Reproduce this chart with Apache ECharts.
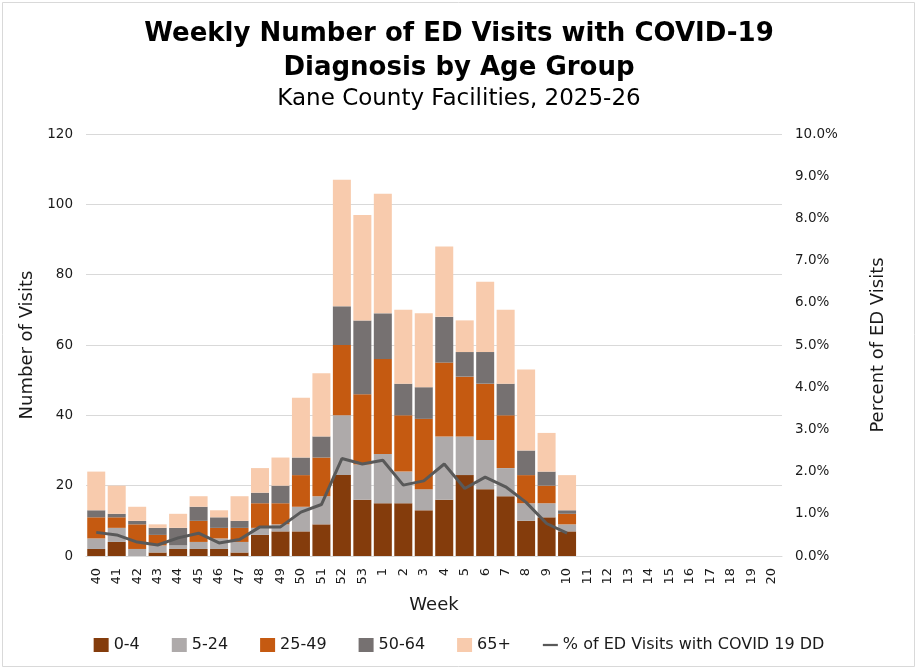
<html>
<meta charset="UTF-8">
<head>
    <script src="https://cdn.jsdelivr.net/npm/echarts@6/dist/echarts.min.js"></script>
</head>
<body style="margin:0">

<div id="covidChart" style="width:918px;height:670px;"></div>

</body>
<script>
    // week labels, season 2025-26
    var weeks = ['40', '41', '42', '43', '44', '45', '46', '47', '48', '49', '50', '51', '52', '53',
        '1', '2', '3', '4', '5', '6', '7', '8', '9', '10', '11', '12', '13', '14', '15', '16', '17', '18', '19', '20'];

    // visits by age group (weeks 40..10)
    var age0_4 = [2, 4, 0, 1, 2, 2, 2, 1, 6, 7, 7, 9, 23, 16, 15, 15, 13, 16, 23, 19, 17, 10, 11, 7];
    var age5_24 = [3, 4, 2, 2, 1, 2, 3, 3, 2, 2, 7, 8, 17, 10, 14, 9, 6, 18, 11, 14, 8, 5, 4, 2];
    var age25_49 = [6, 3, 7, 3, 0, 6, 3, 4, 7, 6, 9, 11, 20, 20, 27, 16, 20, 21, 17, 16, 15, 8, 5, 3];
    var age50_64 = [2, 1, 1, 2, 5, 4, 3, 2, 3, 5, 5, 6, 11, 21, 13, 9, 9, 13, 7, 9, 9, 7, 4, 1];
    var age65 = [11, 8, 4, 1, 4, 3, 2, 7, 7, 8, 17, 18, 36, 30, 34, 21, 21, 20, 9, 20, 21, 23, 11, 10];

    // percent of ED visits with COVID-19 DD
    var pctVisits = [0.56, 0.50, 0.33, 0.26, 0.43, 0.54, 0.31, 0.39, 0.69, 0.69, 1.04, 1.22, 2.31, 2.18,
        2.27, 1.68, 1.78, 2.18, 1.60, 1.87, 1.64, 1.27, 0.77, 0.54];

    var leftTicks = [0, 20, 40, 60, 80, 100, 120];

    var font = 'DejaVu Sans';
    var txt = '#1a1a1a';

    var chart = echarts.init(document.getElementById('covidChart'));

    function barSeries(name, data, color) {
        return {
            name: name,
            type: 'bar',
            stack: 'age',
            barCategoryGap: '12%',
            itemStyle: {color: color},
            data: data
        };
    }

    var option = {
        animation: false,
        backgroundColor: '#fff',
        textStyle: {fontFamily: font},
        graphic: [{
            type: 'rect',
            shape: {x: 2.5, y: 2.5, width: 912, height: 664},
            style: {fill: 'none', stroke: '#d9d9d9', lineWidth: 1}
        }],
        title: [{
            text: 'Weekly Number of ED Visits with COVID-19\nDiagnosis by Age Group',
            left: 'center',
            top: 12,
            textStyle: {fontFamily: font, fontSize: 26, fontWeight: 'bold', color: '#000', lineHeight: 34}
        }, {
            text: 'Kane County Facilities, 2025-26',
            left: 'center',
            top: 83,
            textStyle: {fontFamily: font, fontSize: 23, fontWeight: 'normal', color: '#000'}
        }],
        legend: {
            bottom: 12,
            left: 'center',
            itemWidth: 15,
            itemHeight: 14,
            itemGap: 32,
            textStyle: {fontFamily: font, fontSize: 16, color: txt},
            data: [
                {name: '0-4', icon: 'rect'},
                {name: '5-24', icon: 'rect'},
                {name: '25-49', icon: 'rect'},
                {name: '50-64', icon: 'rect'},
                {name: '65+', icon: 'rect'},
                {name: '% of ED Visits with COVID 19 DD', icon: 'path://M0,0H20V3H0Z'}
            ]
        },
        grid: {left: 86, right: 136, top: 134, bottom: 114},
        xAxis: {
            type: 'category',
            data: weeks,
            name: 'Week',
            nameLocation: 'middle',
            nameGap: 40,
            nameTextStyle: {fontSize: 18, color: txt},
            axisTick: {show: false},
            axisLine: {lineStyle: {color: '#d9d9d9'}},
            axisLabel: {interval: 0, rotate: 90, fontSize: 13, color: txt, margin: 12}
        },
        yAxis: [{
            type: 'value',
            min: leftTicks[0],
            max: leftTicks[leftTicks.length - 1],
            interval: 20,
            name: 'Number of Visits',
            nameLocation: 'middle',
            nameGap: 47,
            nameTextStyle: {fontSize: 18, color: txt},
            axisLabel: {fontSize: 13.5, color: txt, margin: 13},
            splitLine: {lineStyle: {color: '#d9d9d9'}}
        }, {
            type: 'value',
            min: 0,
            max: 10,
            interval: 1,
            position: 'right',
            name: 'Percent of ED Visits',
            nameLocation: 'middle',
            nameGap: 87,
            nameRotate: 90,
            nameTextStyle: {fontSize: 18, color: txt},
            axisLabel: {
                fontSize: 13.5, color: txt, margin: 13,
                formatter: function (v) {
                    return v.toFixed(1) + '%';
                }
            },
            splitLine: {show: false}
        }],
        series: [
            barSeries('0-4', age0_4, '#843C0C'),
            barSeries('5-24', age5_24, '#AEAAAA'),
            barSeries('25-49', age25_49, '#C55A11'),
            barSeries('50-64', age50_64, '#767171'),
            barSeries('65+', age65, '#F8CBAD'),
            {
                name: '% of ED Visits with COVID 19 DD',
                type: 'line',
                yAxisIndex: 1,
                symbol: 'none',
                lineStyle: {color: '#595959', width: 3},
                itemStyle: {color: '#595959'},
                data: pctVisits
            }
        ]
    };
    chart.setOption(option);
</script>
</html>
